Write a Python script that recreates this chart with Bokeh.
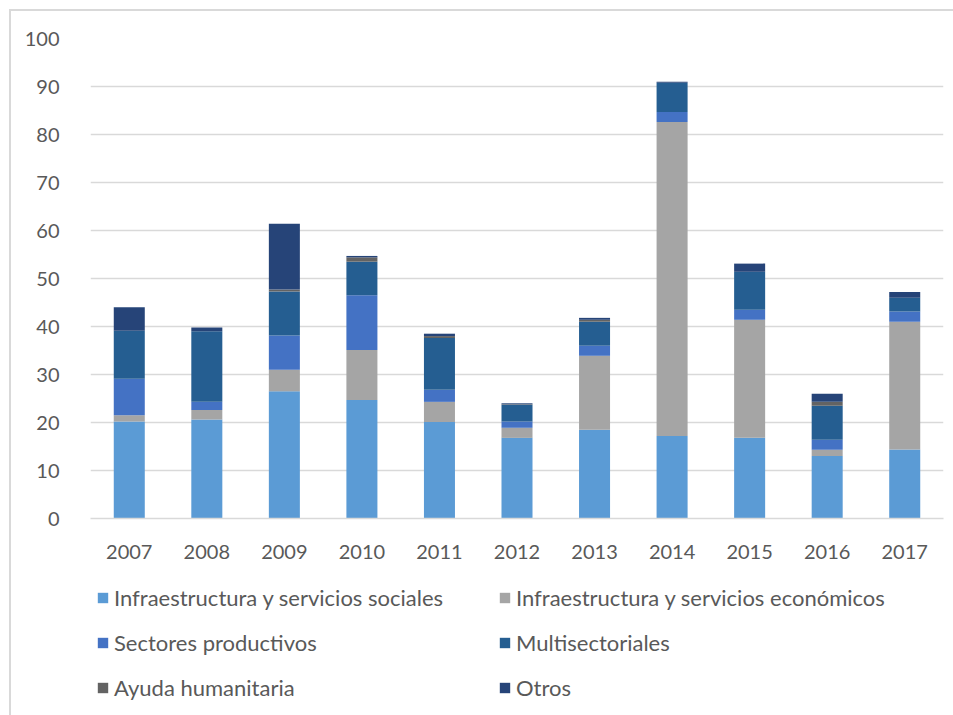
from bokeh.plotting import figure
from bokeh.layouts import column
from bokeh.models import ColumnDataSource, Legend, LegendItem, Range1d, FixedTicker
from bokeh.embed import file_html
from bokeh.resources import INLINE

years = ["2007", "2008", "2009", "2010", "2011", "2012", "2013", "2014", "2015", "2016", "2017"]
social = [20.2, 20.6, 26.5, 24.7, 20.1, 16.8, 18.5, 17.2, 16.8, 13.0, 14.4]
economic = [1.3, 2.0, 4.5, 10.4, 4.2, 2.1, 15.4, 65.4, 24.6, 1.3, 26.6]
productive = [7.6, 1.7, 7.1, 11.4, 2.5, 1.3, 2.1, 2.1, 2.1, 2.1, 2.1]
multisector = [10.0, 14.7, 9.2, 7.0, 10.8, 3.5, 5.0, 6.1, 7.9, 7.1, 2.9]
humanitarian = [0.0, 0.0, 0.4, 0.9, 0.4, 0.1, 0.4, 0.0, 0.0, 0.8, 0.0]
others = [4.9, 0.8, 13.7, 0.3, 0.5, 0.2, 0.4, 0.2, 1.7, 1.7, 1.2]

series_names = ["Infraestructura y servicios sociales", "Infraestructura y servicios económicos",
                "Sectores productivos", "Multisectoriales", "Ayuda humanitaria", "Otros"]
keys = ["social", "economic", "productive", "multisector", "humanitarian", "others"]
colors = ["#5B9BD5", "#A5A5A5", "#4472C4", "#255E91", "#636363", "#264478"]

source = ColumnDataSource(dict(years=years, social=social, economic=economic, productive=productive,
                               multisector=multisector, humanitarian=humanitarian, others=others))

FONT = "Lato"
p = figure(x_range=years, y_range=Range1d(0, 100), width=942, height=560,
           output_backend="svg", toolbar_location=None,
           min_border_left=79, min_border_right=10, min_border_top=27, min_border_bottom=53)

renderers = p.vbar_stack(keys, x="years", width=0.4, color=colors, source=source, line_width=0)

p.outline_line_color = None
p.xgrid.grid_line_color = None
p.ygrid.grid_line_color = "#d9d9d9"
p.ygrid.grid_line_width = 1.5
p.yaxis.ticker = FixedTicker(ticks=list(range(0, 101, 10)))
p.yaxis.axis_line_color = None
p.yaxis.major_tick_line_color = None
p.yaxis.minor_tick_line_color = None
p.yaxis.major_label_standoff = 25
p.xaxis.axis_line_color = "#d9d9d9"
p.xaxis.axis_line_width = 1.5
p.xaxis.major_tick_line_color = None
p.xaxis.major_label_standoff = 20
for ax in (p.xaxis, p.yaxis):
    ax.major_label_text_font = FONT
    ax.major_label_text_font_size = "20px"
    ax.major_label_text_color = "#595959"

# legend-only figure below the chart (its frame is aligned with the chart's frame)
lf = figure(x_range=Range1d(0, 1), y_range=Range1d(0, 1), width=942, height=144,
            output_backend="svg", toolbar_location=None,
            min_border=0, min_border_left=0, min_border_right=0, min_border_top=0, min_border_bottom=0)
lf.axis.visible = False
lf.grid.grid_line_color = None
lf.outline_line_color = None
lsrc = ColumnDataSource(dict(x=[-5], top=[-5]))
lrs = [lf.vbar(x="x", top="top", bottom=-6, width=0.1, color=c, line_width=0, source=lsrc) for c in colors]

items = [LegendItem(label=n, renderers=[r]) for n, r in zip(series_names, lrs)]
legend = Legend(items=items, ncols=2, location=(6, 14), orientation="horizontal",
                padding=0, margin=0, spacing=18, glyph_width=13, glyph_height=13,
                label_height=26, label_standoff=5, label_width=366,
                label_text_font=FONT, label_text_font_size="22px", label_text_color="#595959",
                border_line_color=None, background_fill_alpha=0)
lf.add_layout(legend, "center")

layout = column(p, lf, spacing=0)
layout.styles = {"margin-left": "9px", "margin-top": "9px",
                 "border-left": "2px solid #d9d9d9", "border-top": "2px solid #d9d9d9"}

open("out.html", "w").write(file_html(layout, INLINE))
